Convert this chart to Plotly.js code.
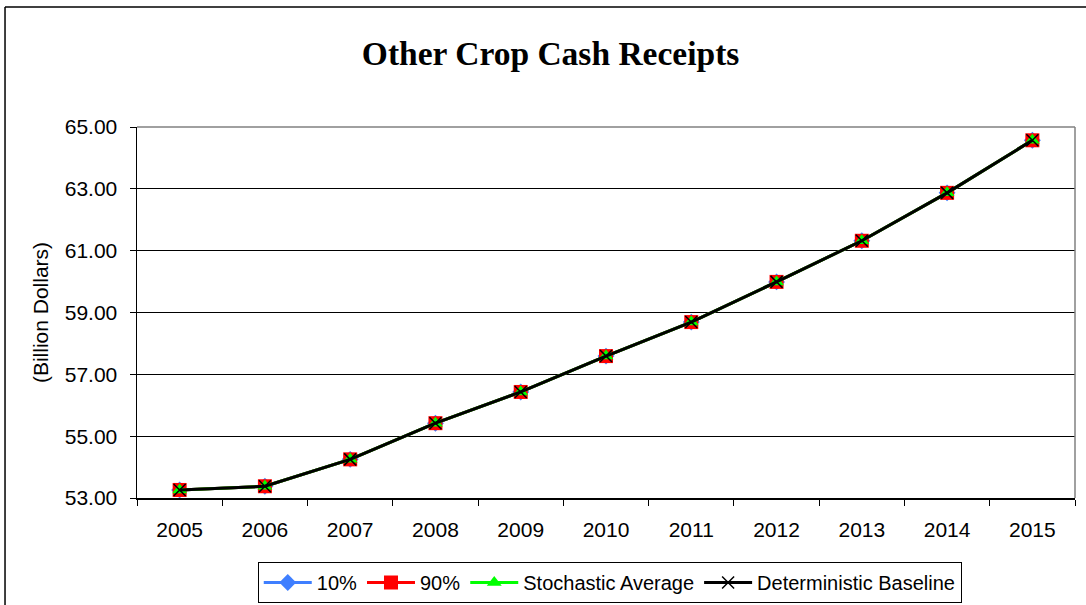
<!DOCTYPE html>
<html>
<head>
<meta charset="utf-8">
<script src="https://cdn.plot.ly/plotly-3.0.1.min.js"></script>
<style>html,body{margin:0;padding:0;background:#fff;}#chart{width:1086px;height:605px;}</style>
</head>
<body>
<div id="chart"></div>
<script>
const years = ["2005","2006","2007","2008","2009","2010","2011","2012","2013","2014","2015"];
const p10 = [53.26,53.38,54.25,55.42,56.43,57.59,58.69,59.99,61.32,62.87,64.57];
const p90 = [53.26,53.38,54.25,55.42,56.43,57.59,58.69,59.99,61.32,62.87,64.57];
const stochAvg = [53.26,53.38,54.25,55.42,56.43,57.59,58.69,59.99,61.32,62.87,64.57];
const baseline = [53.26,53.38,54.25,55.42,56.43,57.59,58.69,59.99,61.32,62.87,64.57];
const yTicks = [53,55,57,59,61,63,65];

const traces = [
  {x: years, y: p10, name: "10%", type: "scatter", mode: "lines+markers",
   line: {color: "#3f7fff", width: 3}, marker: {symbol: "diamond", size: 13, color: "#3f7fff"}},
  {x: years, y: p90, name: "90%", type: "scatter", mode: "lines+markers",
   line: {color: "#ff0000", width: 3}, marker: {symbol: "square", size: 14, color: "#ff0000"}},
  {x: years, y: stochAvg, name: "Stochastic Average", type: "scatter", mode: "lines+markers",
   line: {color: "#00ff00", width: 3}, marker: {symbol: "triangle-up", size: 13, color: "#00ff00"}},
  {x: years, y: baseline, name: "Deterministic Baseline", type: "scatter", mode: "lines+markers",
   line: {color: "#000000", width: 3}, marker: {symbol: "x-thin", size: 12, line: {color: "#000000", width: 1.5}, color: "#000000"}}
];

const layout = {
  width: 1086, height: 605,
  margin: {l: 137, r: 11, t: 127, b: 107},
  paper_bgcolor: "#ffffff", plot_bgcolor: "#ffffff",
  font: {family: "Liberation Sans, Arial, sans-serif", size: 20, color: "#000"},
  title: {text: "<b>Other Crop Cash Receipts</b>", x: 0.507, xanchor: "center", y: 0.912, yanchor: "middle",
          font: {family: "Liberation Serif, Times New Roman, serif", size: 33.5, color: "#000"}},
  xaxis: {type: "category", range: [-0.5, 10.5], tickson: "boundaries", ticks: "outside", ticklen: 6,
          tickcolor: "#000", showline: true, linecolor: "#000", linewidth: 1.5, showgrid: false,
          tickfont: {size: 21}, ticklabelstandoff: 12, zeroline: false},
  yaxis: {range: [53, 65], tickvals: yTicks, tickformat: ".2f", ticks: "outside", ticklen: 6,
          tickcolor: "#000", showline: true, linecolor: "#000", linewidth: 1.5,
          showgrid: true, gridcolor: "#000", gridwidth: 1, zeroline: false,
          tickfont: {size: 21}, ticklabelstandoff: 8,
          title: {text: "(Billion Dollars)", font: {size: 21}, standoff: 10}},
  legend: {orientation: "h", x: 0.504, xanchor: "center", xref: "paper", y: 0.071, yref: "container", yanchor: "top",
           bordercolor: "#000", borderwidth: 1, font: {size: 20}, traceorder: "normal", itemwidth: 48},
  showlegend: true,
  shapes: [
    {type: "line", xref: "paper", yref: "paper", x0: 0, x1: 1, y0: 1, y1: 1, line: {color: "#808080", width: 1.5}},
    {type: "line", xref: "paper", yref: "paper", x0: 1, x1: 1, y0: 0, y1: 1, line: {color: "#808080", width: 1.5}},
    {type: "line", xref: "paper", yref: "paper", x0: -0.1407, x1: 1.02, y0: 1.3235, y1: 1.3235, line: {color: "#000", width: 1.5}},
    {type: "line", xref: "paper", yref: "paper", x0: -0.1407, x1: -0.1407, y0: 1.3235, y1: -0.3, line: {color: "#000", width: 1.5}}
  ]
};

Plotly.newPlot("chart", traces, layout, {displayModeBar: false, staticPlot: true});
</script>
</body>
</html>
